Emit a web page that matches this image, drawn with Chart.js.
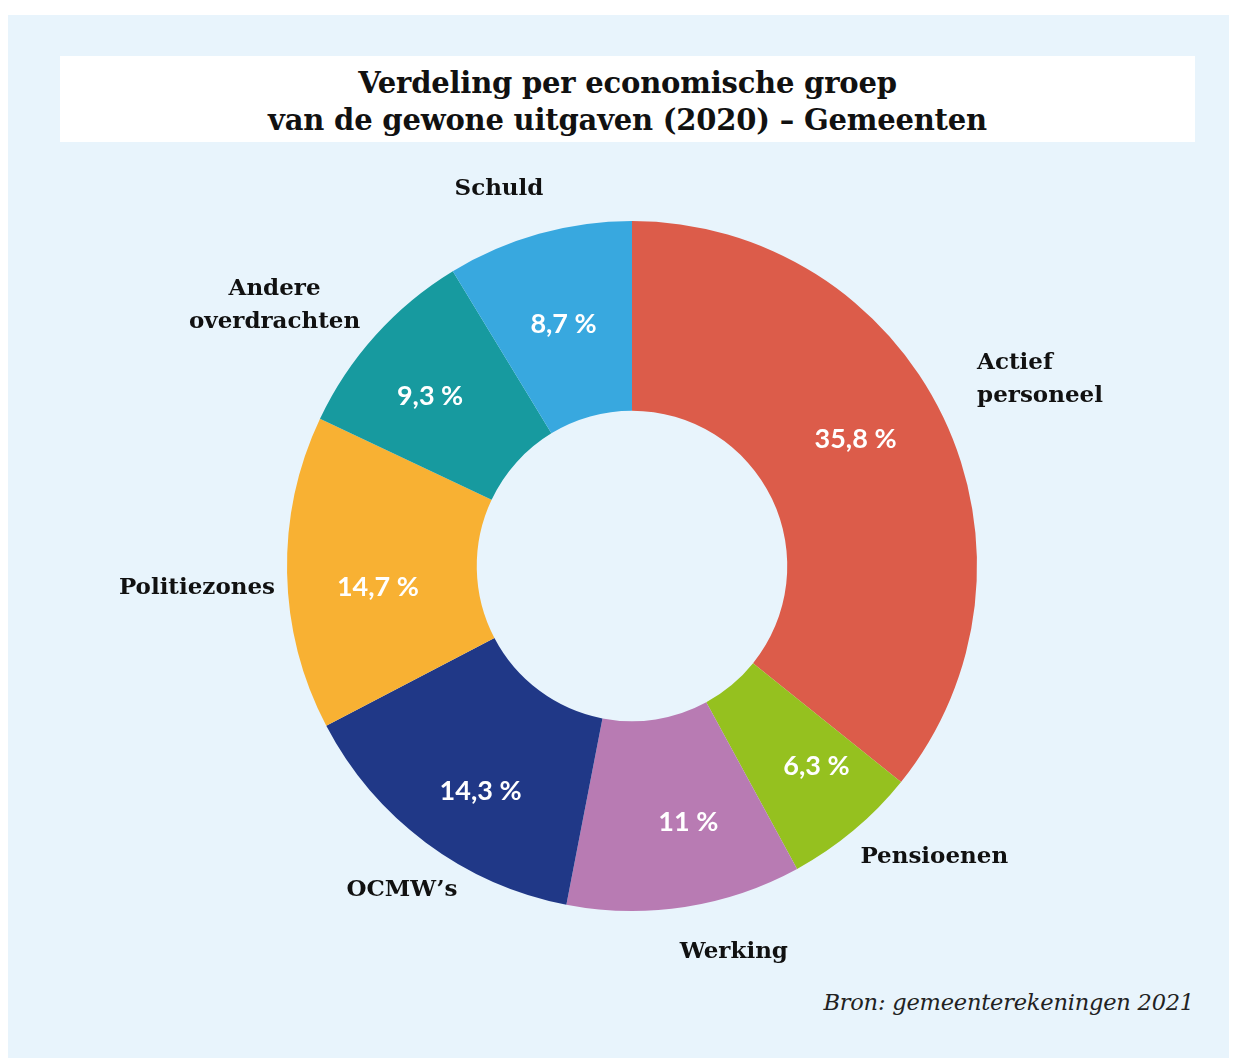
<!DOCTYPE html>
<html lang="nl">
<head>
<meta charset="utf-8">
<script src="https://cdn.jsdelivr.net/npm/chart.js@4.4.1/dist/chart.umd.min.js"></script>
<style>
  html, body { margin: 0; padding: 0; background: #ffffff; }
  body { width: 1237px; height: 1059px; position: relative; overflow: hidden; }
  #panel { position: absolute; left: 8px; top: 15px; width: 1221px; height: 1043px; background: #e8f4fc; }
  #titlebox { position: absolute; left: 60px; top: 56px; width: 1135px; height: 86px; background: #ffffff;
    font-family: "DejaVu Serif", serif; font-weight: bold; font-size: 29px; line-height: 37px;
    text-align: center; color: #111; box-sizing: border-box; padding-top: 9px; letter-spacing: -0.2px; }
  #source { position: absolute; right: 43px; top: 989px; font-family: "DejaVu Serif", serif; font-style: italic;
    font-size: 22.5px; color: #222; letter-spacing: -0.2px; }
  #wrap { position: absolute; left: 0; top: 0; width: 1237px; height: 1059px; }
</style>
</head>
<body>
<div id="panel"></div>
<div id="titlebox">Verdeling per economische groep<br>van de gewone uitgaven (2020) – Gemeenten</div>
<div id="source">Bron: gemeenterekeningen 2021</div>
<div id="wrap"><canvas id="chart" width="1237" height="1059"></canvas></div>
<script>
// Economic groups of ordinary municipal expenditure, clockwise from the top
const categories = ["Actief personeel", "Pensioenen", "Werking", "OCMW’s", "Politiezones", "Andere overdrachten", "Schuld"];
const labelLines = [["Actief", "personeel"], ["Pensioenen"], ["Werking"], ["OCMW’s"], ["Politiezones"], ["Andere", "overdrachten"], ["Schuld"]];
const shares = [35.8, 6.3, 11, 14.3, 14.7, 9.3, 8.7];
const shareText = ["35,8 %", "6,3 %", "11 %", "14,3 %", "14,7 %", "9,3 %", "8,7 %"];
const colors = ["#dc5c4a", "#95c11f", "#b87bb3", "#203887", "#f8b133", "#179a9f", "#38a8df"];

// Placement of the category names relative to the outer edge of each slice
const nameLayout = [
  { dx: 34, dy: -37, align: "left" },
  { dx: 7, dy: 26, align: "left" },
  { dx: 49, dy: 45, align: "center" },
  { dx: -24, dy: 47, align: "center" },
  { dx: -12, dy: 15, align: "right" },
  { dx: -101, dy: -30, align: "center" },
  { dx: -40, dy: -45, align: "center" }
];
// Small shifts of the percentage labels away from the slice centroid
const valueShift = [
  { dx: -2, dy: -19 },
  { dx: 24, dy: 8 },
  { dx: 18, dy: 9 },
  { dx: -2, dy: 25 },
  { dx: -4, dy: 16 },
  { dx: -16, dy: -2 },
  { dx: -1, dy: -1 }
];

const sliceLabels = {
  id: "sliceLabels",
  afterDatasetsDraw(chart) {
    const ctx = chart.ctx;
    const arcs = chart.getDatasetMeta(0).data;
    ctx.save();
    ctx.textBaseline = "middle";
    arcs.forEach((arc, i) => {
      // value inside the slice
      const p = arc.tooltipPosition();
      ctx.fillStyle = "#ffffff";
      ctx.textAlign = "center";
      ctx.font = "bold 27px Lato, sans-serif";
      ctx.fillText(shareText[i], p.x + valueShift[i].dx, p.y + valueShift[i].dy);

      // category name outside the ring
      const mid = (arc.startAngle + arc.endAngle) / 2;
      const ax = arc.x + Math.cos(mid) * arc.outerRadius + nameLayout[i].dx;
      const ay = arc.y + Math.sin(mid) * arc.outerRadius + nameLayout[i].dy;
      const lines = labelLines[i];
      const lh = 33;
      ctx.fillStyle = "#111111";
      ctx.textAlign = nameLayout[i].align;
      ctx.font = "bold 23px 'DejaVu Serif', serif";
      lines.forEach((t, k) => {
        ctx.fillText(t, ax, ay + (k - (lines.length - 1) / 2) * lh);
      });
    });
    ctx.restore();
  }
};

new Chart(document.getElementById("chart"), {
  type: "doughnut",
  data: {
    labels: categories,
    datasets: [{
      data: shares,
      backgroundColor: colors,
      borderWidth: 0,
      hoverOffset: 0
    }]
  },
  options: {
    responsive: false,
    animation: false,
    cutout: "45%",
    rotation: 0,
    layout: { padding: { left: 287, right: 260, top: 221, bottom: 148 } },
    plugins: {
      legend: { display: false },
      tooltip: { enabled: false },
      title: { display: false }
    }
  },
  plugins: [sliceLabels]
});
</script>
</body>
</html>
